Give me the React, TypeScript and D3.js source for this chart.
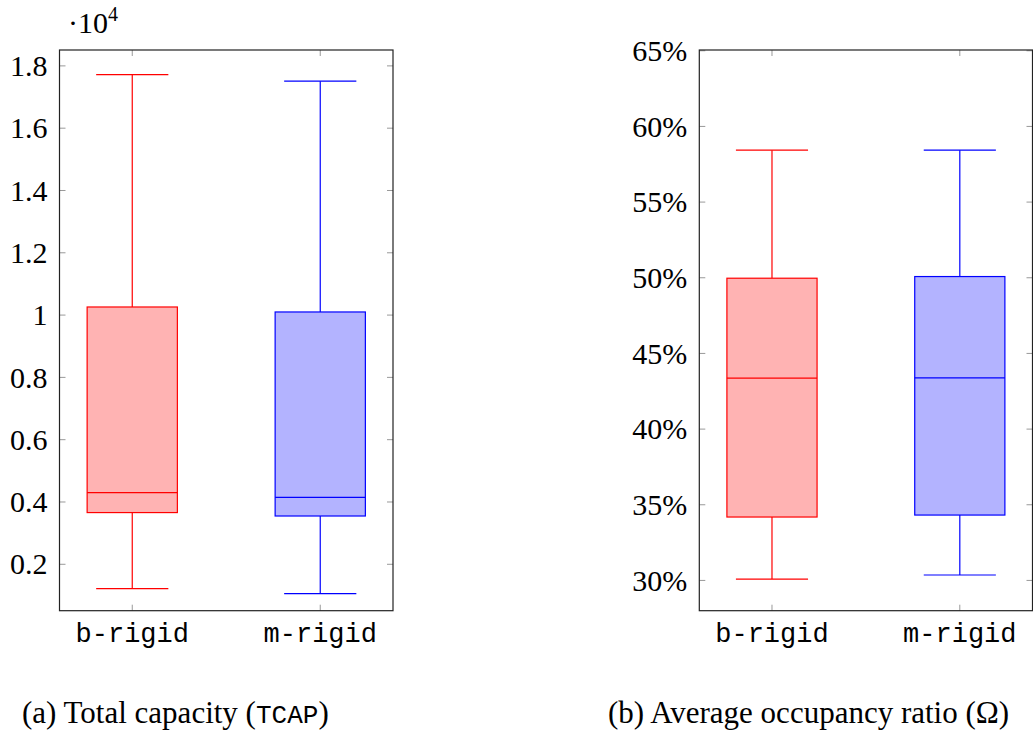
import React from 'react';
import * as d3 from 'd3';

// box plot stats
const categories = ['b-rigid', 'm-rigid'];

// total capacity, in units of 10^4
const capLower = [0.122, 0.106];
const capQ1 = [0.366, 0.355];
const capMedian = [0.43, 0.415];
const capQ3 = [1.026, 1.01];
const capUpper = [1.772, 1.751];
const capTicks = [0.2, 0.4, 0.6, 0.8, 1, 1.2, 1.4, 1.6, 1.8];

// average occupancy ratio, percent
const occLower = [30.09, 30.36];
const occQ1 = [34.19, 34.32];
const occMedian = [43.37, 43.39];
const occQ3 = [49.97, 50.08];
const occUpper = [58.43, 58.43];
const occTicks = [30, 35, 40, 45, 50, 55, 60, 65];

const strokes = ['#ff0000', '#0000ff'];
const fills = ['#ffb3b3', '#b3b3ff'];

const serif = '"Liberation Serif", "DejaVu Serif", serif';
const mono = '"Liberation Mono", "DejaVu Sans Mono", monospace';

type PanelProps = {
  left: number;
  right: number;
  top: number;
  bottom: number;
  domain: [number, number];
  ticks: number[];
  fmt: (v: number) => string;
  lower: number[];
  q1: number[];
  median: number[];
  q3: number[];
  upper: number[];
};

function Panel({ left, right, top, bottom, domain, ticks, fmt, lower, q1, median, q3, upper }: PanelProps) {
  const x = d3.scalePoint<string>().domain(categories).range([left, right]).padding(0.387);
  const y = d3.scaleLinear().domain(domain).range([bottom, top]);
  const boxW = x.step() * 0.48;
  const capW = boxW * 0.8;
  const tickLen = 6;

  return (
    <g>
      {/* y ticks on both sides */}
      {ticks.map(t => (
        <g key={t}>
          <line x1={left} x2={left + tickLen} y1={y(t)} y2={y(t)} stroke="#999" strokeWidth={1} />
          <line x1={right} x2={right - tickLen} y1={y(t)} y2={y(t)} stroke="#999" strokeWidth={1} />
          <text x={left - 12} y={y(t)} dy="0.34em" textAnchor="end" fontFamily={serif} fontSize={30} fill="#000">
            {fmt(t)}
          </text>
        </g>
      ))}
      {/* category ticks top and bottom */}
      {categories.map(c => (
        <g key={c}>
          <line x1={x(c)} x2={x(c)} y1={top} y2={top + tickLen} stroke="#999" strokeWidth={1} />
          <line x1={x(c)} x2={x(c)} y1={bottom} y2={bottom - tickLen} stroke="#999" strokeWidth={1} />
          <text x={x(c)} y={bottom + 31} textAnchor="middle" fontFamily={mono} fontSize={27} fill="#000">
            {c}
          </text>
        </g>
      ))}

      {categories.map((c, i) => {
        const cx = x(c) as number;
        return (
          <g key={c} stroke={strokes[i]} strokeWidth={1.2}>
            <line x1={cx} x2={cx} y1={y(upper[i])} y2={y(q3[i])} />
            <line x1={cx} x2={cx} y1={y(q1[i])} y2={y(lower[i])} />
            <line x1={cx - capW / 2} x2={cx + capW / 2} y1={y(upper[i])} y2={y(upper[i])} />
            <line x1={cx - capW / 2} x2={cx + capW / 2} y1={y(lower[i])} y2={y(lower[i])} />
            <rect
              x={cx - boxW / 2}
              y={y(q3[i])}
              width={boxW}
              height={y(q1[i]) - y(q3[i])}
              fill={fills[i]}
            />
            <line x1={cx - boxW / 2} x2={cx + boxW / 2} y1={y(median[i])} y2={y(median[i])} />
          </g>
        );
      })}

      <rect x={left} y={top} width={right - left} height={bottom - top} fill="none" stroke="#222" strokeWidth={1.2} />
    </g>
  );
}

export default function App() {
  return (
    <svg
      width={1033}
      height={731}
      style={{ position: 'absolute', left: 0, top: 0, background: '#fff' }}
    >
      <Panel
        left={59.5}
        right={393}
        top={50}
        bottom={610.7}
        domain={[0.051, 1.851]}
        ticks={capTicks}
        fmt={d => (d === 1 ? '1' : d3.format('.1f')(d))}
        lower={capLower}
        q1={capQ1}
        median={capMedian}
        q3={capQ3}
        upper={capUpper}
      />
      <text x={68} y={33} fontFamily={serif} fontSize={30} fill="#000">
        ·10<tspan fontSize={20} dy={-12}>4</tspan>
      </text>

      <Panel
        left={699.3}
        right={1032.5}
        top={50}
        bottom={610.7}
        domain={[28.0, 65.05]}
        ticks={occTicks}
        fmt={d => `${d}%`}
        lower={occLower}
        q1={occQ1}
        median={occMedian}
        q3={occQ3}
        upper={occUpper}
      />

      <text x={22} y={723} fontFamily={serif} fontSize={31} fill="#000">
        (a) Total capacity (<tspan fontFamily={mono} fontSize={26}>TCAP</tspan>)
      </text>
      <text x={608} y={723} fontFamily={serif} fontSize={31} fill="#000">
        (b) Average occupancy ratio (Ω)
      </text>
    </svg>
  );
}
